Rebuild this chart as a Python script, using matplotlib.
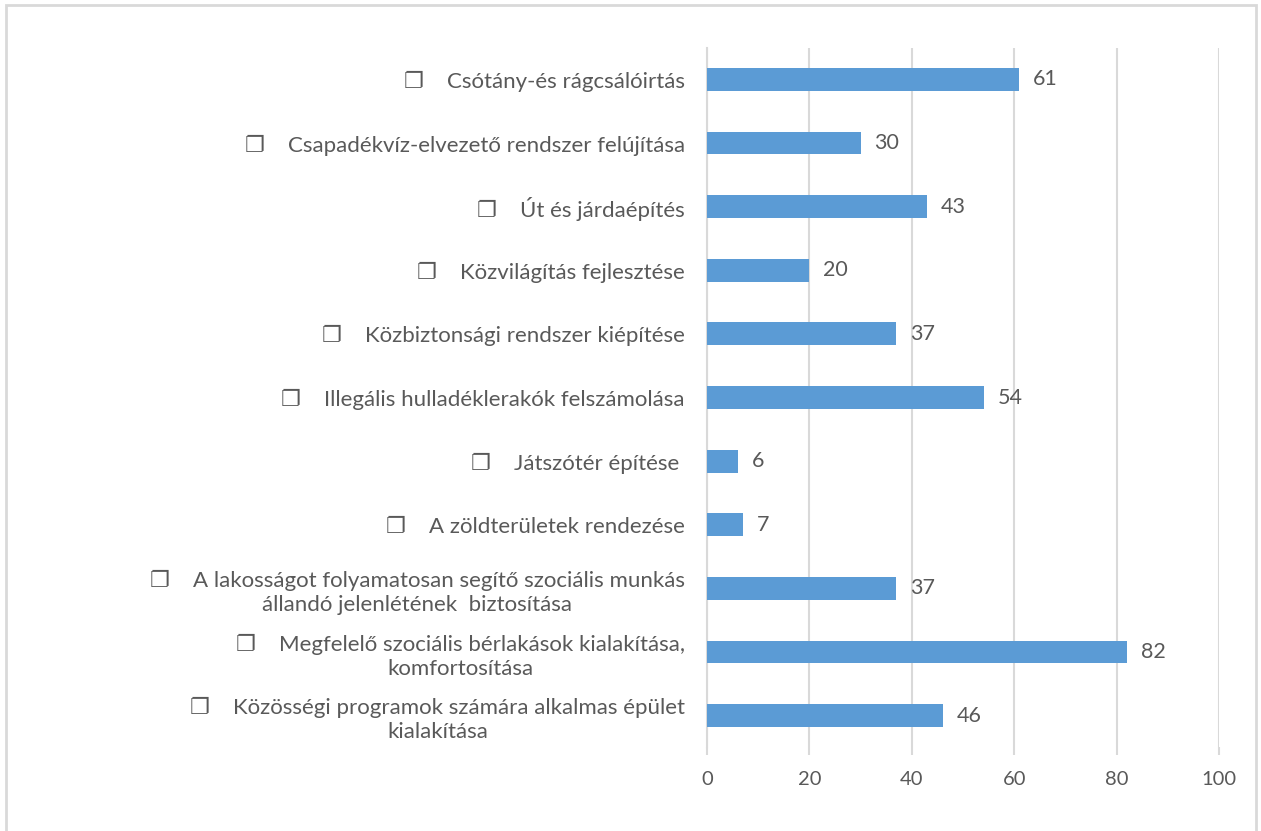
import matplotlib
matplotlib.use("Agg")
import matplotlib.pyplot as plt
from matplotlib.patches import Rectangle

# categories, top to bottom as in the chart
categories = [
    "❐    Csótány-és rágcsálóirtás",
    "❐    Csapadékvíz-elvezető rendszer felújítása",
    "❐    Út és járdaépítés",
    "❐    Közvilágítás fejlesztése",
    "❐    Közbiztonsági rendszer kiépítése",
    "❐    Illegális hulladéklerakók felszámolása",
    "❐    Játszótér építése ",
    "❐    A zöldterületek rendezése",
    "❐    A lakosságot folyamatosan segítő szociális munkás\nállandó jelenlétének  biztosítása",
    "❐    Megfelelő szociális bérlakások kialakítása,\nkomfortosítása",
    "❐    Közösségi programok számára alkalmas épület\nkialakítása",
]
values = [61, 30, 43, 20, 37, 54, 6, 7, 37, 82, 46]
x_ticks = [0, 20, 40, 60, 80, 100]

bar_color = "#5B9BD5"
text_color = "#595959"
grid_color = "#D9D9D9"
fams = ["Lato", "DejaVu Sans"]

plt.rcParams["font.family"] = fams

fig = plt.figure(figsize=(12.61, 8.31), dpi=100)
ax = fig.add_axes([0.5607, 0.1005, 0.4060, 0.8423])

pos = list(range(len(categories)))
ax.barh(pos, values, height=0.36, color=bar_color, zorder=3)

for p, v in zip(pos, values):
    ax.annotate(str(v), xy=(v, p), xytext=(10, 0), textcoords="offset points",
                va="center", ha="left", fontsize=15.5, color=text_color)

ax.set_xlim(0, 100)
ax.set_ylim(len(categories) - 0.5, -0.5)
ax.set_xticks(x_ticks)
ax.set_xticklabels([str(t) for t in x_ticks])
ax.set_yticks(pos)
ax.set_yticklabels(categories)
for lbl in ax.get_yticklabels():
    lbl.set_multialignment("center")
    lbl.set_linespacing(1.25)

ax.tick_params(axis="x", colors=grid_color, labelcolor=text_color, labelsize=14.5,
               length=6, width=1.5, pad=11)
ax.tick_params(axis="y", length=0, labelcolor=text_color, labelsize=16, pad=16)

ax.grid(axis="x", color=grid_color, linewidth=1.5, zorder=0)
for s in ["top", "right", "bottom"]:
    ax.spines[s].set_visible(False)
ax.spines["left"].set_color(grid_color)
ax.spines["left"].set_linewidth(1.5)

# light outer frame, open at the bottom
fig.patches.append(Rectangle((6 / 1261, -0.05), 1250 / 1261, 1 - 5.5 / 831 + 0.05,
                             transform=fig.transFigure, fill=False,
                             edgecolor=grid_color, linewidth=2))

fig.savefig("out.png", dpi=100)
